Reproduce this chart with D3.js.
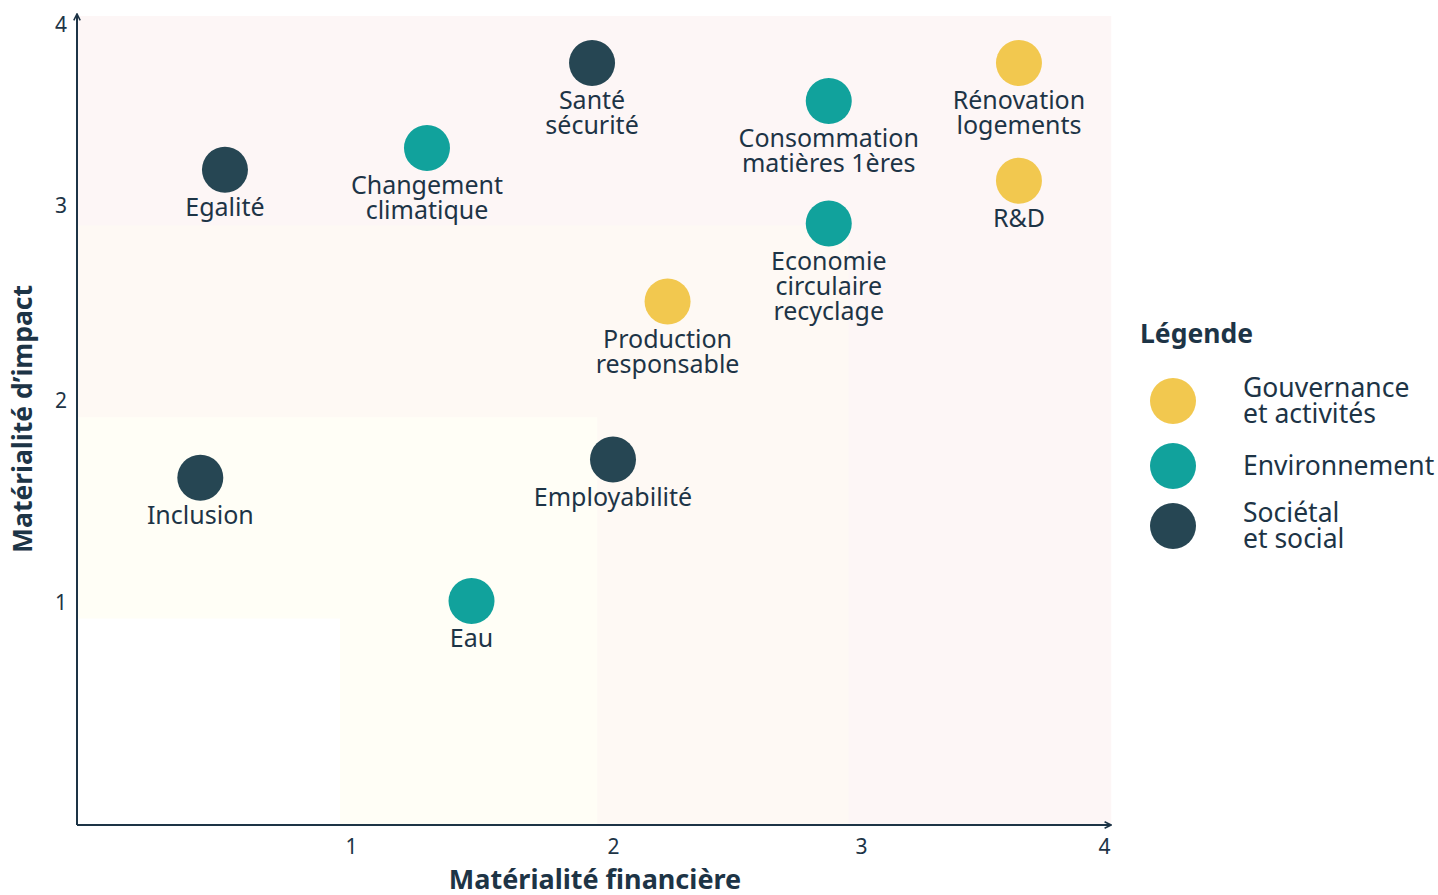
<!DOCTYPE html>
<html>
<head>
<meta charset="utf-8">
<script src="https://cdn.jsdelivr.net/npm/d3@7"></script>
<style>
  body { margin: 0; background: #fff; }
  text { font-family: "Noto Sans", sans-serif; fill: #1d3446; }
</style>
</head>
<body>
<div id="matrix"></div>
<script>
// data
const names = [
  ["Egalité"], ["Changement", "climatique"], ["Santé", "sécurité"],
  ["Consommation", "matières 1ères"], ["Rénovation", "logements"], ["R&D"],
  ["Economie", "circulaire", "recyclage"], ["Production", "responsable"],
  ["Inclusion"], ["Employabilité"], ["Eau"]
];
const finance = [0.54, 1.29, 1.92, 2.87, 3.65, 3.65, 2.87, 2.22, 0.45, 2.0, 1.46];
const impact  = [3.2, 3.32, 3.79, 3.58, 3.79, 3.14, 2.91, 2.51, 1.62, 1.71, 1.01];
const group   = [2, 1, 2, 1, 0, 0, 1, 0, 2, 2, 1];

const groupLabels = [["Gouvernance", "et activités"], ["Environnement"], ["Sociétal", "et social"]];
const groupColors = ["#f2c84f", "#11a29c", "#264653"];
const ticks = [1, 2, 3, 4];

// shaded zones [x0, x1, y0, y1] in data units
const zones = [
  [0, 4.03, 0, 4.05, "#fdf6f6"],
  [0, 2.95, 0, 2.9, "#fef9f4"],
  [0, 1.94, 0, 1.92, "#fffef6"],
  [0, 0.96, 0, 0.93, "#ffffff"]
];

const width = 1438, height = 895;
const svg = d3.select("#matrix").append("svg")
  .attr("width", width).attr("height", height);

// the axes are not evenly spaced in the original, so piecewise scales
const x = d3.scaleLinear().domain([0, 1, 2, 3, 4]).range([77, 351, 613, 861, 1104]);
const y = d3.scaleLinear().domain([0, 1, 2, 3, 4]).range([825, 603, 401, 206, 25]);

svg.selectAll("rect.zone").data(zones).enter().append("rect")
  .attr("class", "zone")
  .attr("x", d => x(d[0]))
  .attr("y", d => y(d[3]))
  .attr("width", d => x(d[1]) - x(d[0]))
  .attr("height", d => y(d[2]) - y(d[3]))
  .style("fill", d => d[4]);

// arrow heads
const defs = svg.append("defs");
defs.append("marker")
  .attr("id", "arrow")
  .attr("viewBox", "0 0 10 10")
  .attr("refX", 9).attr("refY", 5)
  .attr("markerWidth", 4).attr("markerHeight", 4)
  .attr("orient", "auto")
  .append("path")
  .attr("d", "M1,1 L9,5 L1,9")
  .style("fill", "none").style("stroke", "#1d3446").style("stroke-width", 2);

svg.append("line")
  .attr("x1", x(0)).attr("y1", y(0)).attr("x2", 1111).attr("y2", y(0))
  .style("stroke", "#1d3446").style("stroke-width", 2)
  .attr("marker-end", "url(#arrow)");
svg.append("line")
  .attr("x1", x(0)).attr("y1", y(0)).attr("x2", x(0)).attr("y2", 14)
  .style("stroke", "#1d3446").style("stroke-width", 2)
  .attr("marker-end", "url(#arrow)");

// x axis ticks
const xAxis = svg.append("g")
  .attr("transform", "translate(0," + y(0) + ")")
  .call(d3.axisBottom(x).tickValues(ticks).tickSize(0).tickPadding(14).tickFormat(d3.format("d")));
xAxis.select(".domain").remove();
xAxis.selectAll("text").style("font-size", "21px").style("font-family", "Noto Sans").style("fill", "#1d3446");

// y axis ticks
const yAxis = svg.append("g")
  .attr("transform", "translate(" + x(0) + ",0)")
  .call(d3.axisLeft(y).tickValues(ticks).tickSize(0).tickPadding(10).tickFormat(d3.format("d")));
yAxis.select(".domain").remove();
yAxis.selectAll("text").style("font-size", "21px").style("font-family", "Noto Sans").style("fill", "#1d3446");

// axis titles
svg.append("text")
  .attr("x", 595).attr("y", 889)
  .attr("text-anchor", "middle")
  .style("font-size", "27px").style("font-weight", "bold")
  .text("Matérialité financière");

svg.append("text")
  .attr("transform", "translate(32," + 419 + ") rotate(-90)")
  .attr("text-anchor", "middle")
  .style("font-size", "26.5px").style("font-weight", "bold")
  .text("Matérialité d’impact");

// points
const points = names.map((n, i) => ({ lines: n, fx: finance[i], iy: impact[i], g: group[i] }));

svg.selectAll("circle.pt").data(points).enter().append("circle")
  .attr("class", "pt")
  .attr("cx", d => x(d.fx))
  .attr("cy", d => y(d.iy))
  .attr("r", 23)
  .style("fill", d => groupColors[d.g]);

const labels = svg.selectAll("text.lbl").data(points).enter().append("text")
  .attr("class", "lbl")
  .attr("x", d => x(d.fx))
  .attr("y", d => y(d.iy) + 46)
  .attr("text-anchor", "middle")
  .style("font-size", "25px");
labels.selectAll("tspan").data(d => d.lines.map(l => ({ l: l, x: x(d.fx) }))).enter().append("tspan")
  .attr("x", d => d.x)
  .attr("dy", (d, i) => i ? 25 : 0)
  .text(d => d.l);

// legend
const legend = svg.append("g").attr("transform", "translate(1140,0)");
legend.append("text")
  .attr("x", 0).attr("y", 343)
  .style("font-size", "26.5px").style("font-weight", "bold")
  .text("Légende");

const legendY = [401, 466, 526];
groupLabels.forEach((lab, i) => {
  legend.append("circle")
    .attr("cx", 33).attr("cy", legendY[i]).attr("r", 23)
    .style("fill", groupColors[i]);
  const t = legend.append("text")
    .attr("x", 103)
    .attr("y", legendY[i] + 9 - (lab.length - 1) * 13)
    .style("font-size", "26.5px");
  lab.forEach((l, j) => {
    t.append("tspan").attr("x", 103).attr("dy", j ? 26 : 0).text(l);
  });
});
</script>
</body>
</html>
